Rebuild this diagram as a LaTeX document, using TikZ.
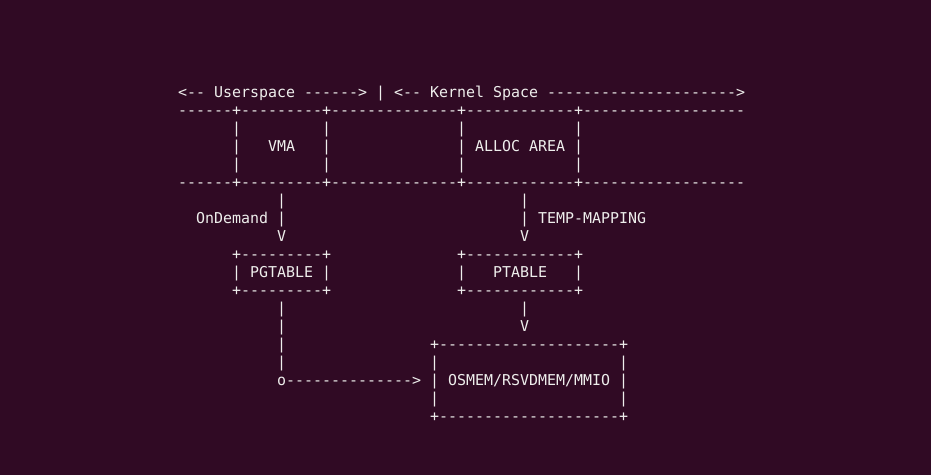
\documentclass[tikz,border=0pt]{standalone}
\usepackage{fontspec}
\setmonofont{DejaVu Sans Mono}
\definecolor{termbg}{HTML}{300A24}
\definecolor{termfg}{HTML}{EEEEEC}
\tikzset{
  tt/.style={anchor=base west,inner sep=0pt,outer sep=0pt,text=termfg,
    font=\fontsize{14.95}{18}\selectfont\ttfamily},
}
\begin{document}
\begin{tikzpicture}[x=9pt,y=-18pt]
% terminal window, one unit = one character cell
\fill[termbg] (-19.8,-4.444) rectangle (83.644,21.944);
\useasboundingbox (-19.8,-4.444) rectangle (83.644,21.944);

% header
\node[tt] (user) at (0,1) {<-- Userspace ------>};
\node[tt] (split) at (22,1) {|};
\node[tt] (kernel) at (24,1) {<-- Kernel Space --------------------->};

% top band: VMA and ALLOC AREA
\node[tt] (bandtop) at (0,2) {------+---------+--------------+------------+------------------};
\foreach \r in {3,4,5}
  \foreach \c in {6,16,31,44}
    \node[tt] (bar\r-\c) at (\c,\r) {|};
\node[tt] (vma) at (10,4) {VMA};
\node[tt] (alloc) at (33,4) {ALLOC AREA};
\node[tt] (bandbot) at (0,6) {------+---------+--------------+------------+------------------};

% down to the tables
\node[tt] (od1) at (11,7) {|};
\node[tt] (ondemand) at (2,8) {OnDemand};
\node[tt] (od2) at (11,8) {|};
\node[tt] (od3) at (11,9) {V};
\node[tt] (tm1) at (38,7) {|};
\node[tt] (tm2) at (38,8) {|};
\node[tt] (tempmap) at (40,8) {TEMP-MAPPING};
\node[tt] (tm3) at (38,9) {V};

% PGTABLE
\node[tt] (pgtop) at (6,10) {+---------+};
\node[tt] (pgl) at (6,11) {|};
\node[tt] (pgtable) at (8,11) {PGTABLE};
\node[tt] (pgr) at (16,11) {|};
\node[tt] (pgbot) at (6,12) {+---------+};

% PTABLE
\node[tt] (pttop) at (31,10) {+------------+};
\node[tt] (ptl) at (31,11) {|};
\node[tt] (ptable) at (35,11) {PTABLE};
\node[tt] (ptr) at (44,11) {|};
\node[tt] (ptbot) at (31,12) {+------------+};

% links into memory
\foreach \r in {13,...,16}
  \node[tt] (pglink\r) at (11,\r) {|};
\node[tt] (tap) at (11,17) {o-------------->};
\node[tt] (ptlink1) at (38,13) {|};
\node[tt] (ptlink2) at (38,14) {V};

% OSMEM/RSVDMEM/MMIO
\node[tt] (memtop) at (28,15) {+--------------------+};
\foreach \r in {16,17,18}{
  \node[tt] (meml\r) at (28,\r) {|};
  \node[tt] (memr\r) at (49,\r) {|};
}
\node[tt] (osmem) at (30,17) {OSMEM/RSVDMEM/MMIO};
\node[tt] (membot) at (28,19) {+--------------------+};
\end{tikzpicture}
\end{document}
